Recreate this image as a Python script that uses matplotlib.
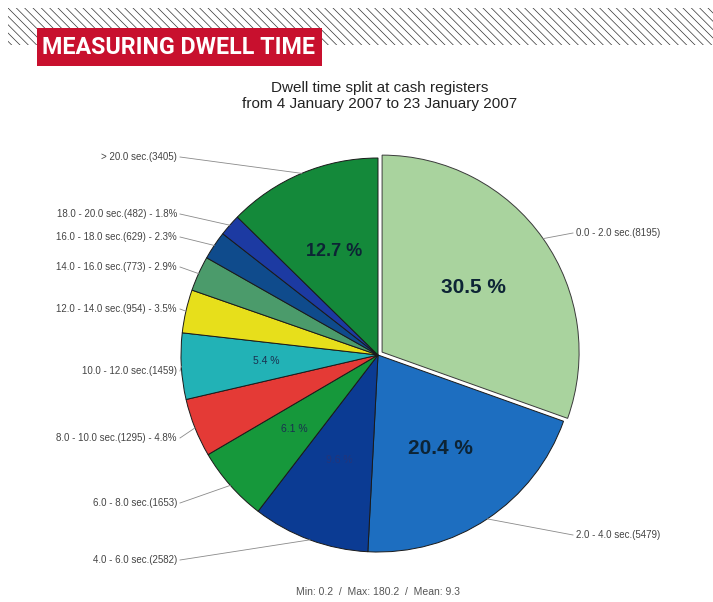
import matplotlib.pyplot as plt
from matplotlib.patches import Rectangle
import numpy as np

ranges = ["0.0 - 2.0 sec.", "2.0 - 4.0 sec.", "4.0 - 6.0 sec.", "6.0 - 8.0 sec.",
          "8.0 - 10.0 sec.", "10.0 - 12.0 sec.", "12.0 - 14.0 sec.", "14.0 - 16.0 sec.",
          "16.0 - 18.0 sec.", "18.0 - 20.0 sec.", "> 20.0 sec."]
counts = [8195, 5479, 2582, 1653, 1295, 1459, 954, 773, 629, 482, 3405]
inner_min = 5.0  # slices with at least this share get their percent inside
stats = "Min: 0.2  /  Max: 180.2  /  Mean: 9.3"
title = "Dwell time split at cash registers\nfrom 4 January 2007 to 23 January 2007"
header = "MEASURING DWELL TIME"

colors = ["#a9d39e", "#1d6ec0", "#0b3b93", "#16983b", "#e43a36", "#22b2b6",
          "#e7df1b", "#4b9b6b", "#0f4b8c", "#1c3aa2", "#14893a"]
# layout of the outer labels (pixel rows, top-down)
label_rows = [233, 535, 560, 503, 438, 371, 309, 267, 237, 214, 157]

W, H = 713, 602
plt.rcParams['font.family'] = ['Liberation Sans', 'DejaVu Sans']
plt.rcParams['hatch.linewidth'] = 0.5

fig = plt.figure(figsize=(7.13, 6.02), dpi=100)
ax = fig.add_axes([0, 0, 1, 1])

cx, cy, r = 378, H - 355, 197
total = sum(counts)
pcts = [100.0 * c / total for c in counts]

wedges, texts, autotexts = ax.pie(
    counts, colors=colors, startangle=90, counterclock=False,
    center=(cx, cy), radius=r, explode=[5] + [0] * (len(counts) - 1),
    autopct=lambda p: f"{p:.1f} %" if p >= inner_min else "",
    pctdistance=0.57, labeldistance=None,
    wedgeprops=dict(edgecolor="#1a1a1a", linewidth=0.7))
wedges[0].set_edgecolor("#3a3a3a")

# inner percent text styles
for t, p in zip(autotexts, pcts):
    if p > 20:
        t.set_fontsize(15); t.set_fontweight("bold"); t.set_color("#0d2435")
    elif p > 10:
        t.set_fontsize(13); t.set_fontweight("bold"); t.set_color("#0d2435")
    else:
        t.set_fontsize(7.5); t.set_color("#1a3050")
autotexts[2].set_color("#24357a")

# outer labels with leader lines
for w, rng, c, p, row in zip(wedges, ranges, counts, pcts, label_rows):
    th = np.deg2rad((w.theta1 + w.theta2) / 2)
    ex, ey = w.center[0] + r * np.cos(th), w.center[1] + r * np.sin(th)
    txt = f"{rng}({c})"
    if p < inner_min:
        txt += f" - {p:.1f}%"
    ly = H - row
    if np.cos(th) >= 0:
        lx, ha, tx = 573, "left", 576
    else:
        lx, ha, tx = 180, "right", 177
    ax.plot([lx, ex], [ly, ey], color="#8a8a8a", lw=0.6)
    ax.text(tx, ly, txt, ha=ha, va="center", fontsize=7, color="#444444")

ax.text(380, H - 96, title, ha="center", va="center", fontsize=11,
        color="#222222", linespacing=1.1)
ax.text(378, H - 592, stats, ha="center", va="center", fontsize=7.5, color="#555555")

# header band
ax.add_patch(Rectangle((8, H - 45), W - 8, 37, facecolor="white", edgecolor="#333333",
                       hatch="\\\\\\\\", lw=0))
ax.add_patch(Rectangle((37, H - 66), 285, 38, facecolor="#c8102e", edgecolor="none"))
head = ax.text(179, H - 47, header, ha="center", va="center", fontsize=20,
               fontweight="bold", color="white", family=["Roboto", "DejaVu Sans"])
# shrink header to fit the red box
fig.canvas.draw()
wpx = head.get_window_extent().width
head.set_fontsize(20 * 272 / wpx)

ax.set_xlim(0, W)
ax.set_ylim(0, H)
ax.set_aspect("auto")
ax.axis("off")

fig.savefig("out.png", dpi=100)
